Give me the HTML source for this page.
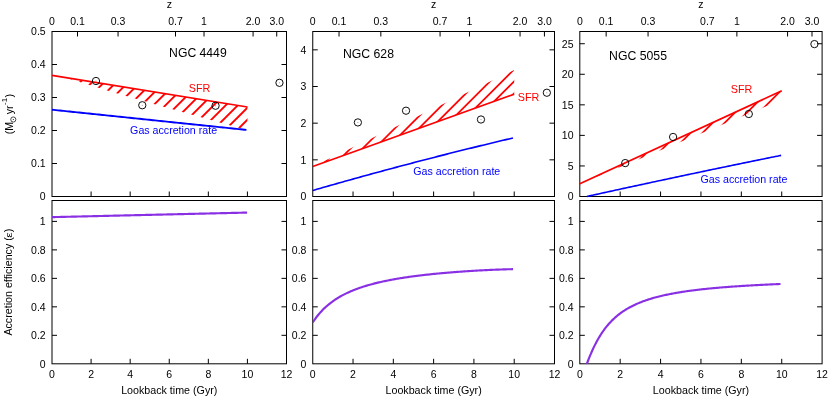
<!DOCTYPE html>
<html><head><meta charset="utf-8"><title>Accretion</title>
<style>html,body{margin:0;padding:0;background:#fff}body{width:830px;height:398px;overflow:hidden}svg{display:block;will-change:transform}text{font-family:"Liberation Sans",sans-serif}</style>
</head><body>
<svg width="830" height="398" viewBox="0 0 830 398" font-family="'Liberation Sans', sans-serif" font-size="10.5">
<rect width="830" height="398" fill="#fff"/>
<rect x="52.00" y="31.50" width="234.50" height="165.00" fill="none" stroke="#000" stroke-width="1.0"/>
<rect x="52.00" y="200.50" width="234.50" height="163.30" fill="none" stroke="#000" stroke-width="1.0"/>
<text x="52.00" y="24.60" text-anchor="middle" fill="#000" font-size="10.5" >0</text>
<line x1="77.50" y1="31.50" x2="77.50" y2="36.50" stroke="#000" stroke-width="1.0" />
<text x="77.50" y="24.60" text-anchor="middle" fill="#000" font-size="10.5" >0.1</text>
<line x1="118.05" y1="31.50" x2="118.05" y2="36.50" stroke="#000" stroke-width="1.0" />
<text x="118.05" y="24.60" text-anchor="middle" fill="#000" font-size="10.5" >0.3</text>
<line x1="175.50" y1="31.50" x2="175.50" y2="36.50" stroke="#000" stroke-width="1.0" />
<text x="175.50" y="24.60" text-anchor="middle" fill="#000" font-size="10.5" >0.7</text>
<line x1="204.03" y1="31.50" x2="204.03" y2="36.50" stroke="#000" stroke-width="1.0" />
<text x="204.03" y="24.60" text-anchor="middle" fill="#000" font-size="10.5" >1</text>
<line x1="253.08" y1="31.50" x2="253.08" y2="36.50" stroke="#000" stroke-width="1.0" />
<text x="253.08" y="24.60" text-anchor="middle" fill="#000" font-size="10.5" >2.0</text>
<line x1="276.73" y1="31.50" x2="276.73" y2="36.50" stroke="#000" stroke-width="1.0" />
<text x="276.73" y="24.60" text-anchor="middle" fill="#000" font-size="10.5" >3.0</text>
<text x="169.25" y="7.80" text-anchor="middle" fill="#000" font-size="10.5" >z</text>
<line x1="91.08" y1="196.50" x2="91.08" y2="191.50" stroke="#000" stroke-width="1.0" />
<line x1="91.08" y1="363.80" x2="91.08" y2="358.80" stroke="#000" stroke-width="1.0" />
<line x1="130.17" y1="196.50" x2="130.17" y2="191.50" stroke="#000" stroke-width="1.0" />
<line x1="130.17" y1="363.80" x2="130.17" y2="358.80" stroke="#000" stroke-width="1.0" />
<line x1="169.25" y1="196.50" x2="169.25" y2="191.50" stroke="#000" stroke-width="1.0" />
<line x1="169.25" y1="363.80" x2="169.25" y2="358.80" stroke="#000" stroke-width="1.0" />
<line x1="208.33" y1="196.50" x2="208.33" y2="191.50" stroke="#000" stroke-width="1.0" />
<line x1="208.33" y1="363.80" x2="208.33" y2="358.80" stroke="#000" stroke-width="1.0" />
<line x1="247.42" y1="196.50" x2="247.42" y2="191.50" stroke="#000" stroke-width="1.0" />
<line x1="247.42" y1="363.80" x2="247.42" y2="358.80" stroke="#000" stroke-width="1.0" />
<text x="52.00" y="378.00" text-anchor="middle" fill="#000" font-size="10.5" >0</text>
<text x="91.08" y="378.00" text-anchor="middle" fill="#000" font-size="10.5" >2</text>
<text x="130.17" y="378.00" text-anchor="middle" fill="#000" font-size="10.5" >4</text>
<text x="169.25" y="378.00" text-anchor="middle" fill="#000" font-size="10.5" >6</text>
<text x="208.33" y="378.00" text-anchor="middle" fill="#000" font-size="10.5" >8</text>
<text x="247.42" y="378.00" text-anchor="middle" fill="#000" font-size="10.5" >10</text>
<text x="286.50" y="378.00" text-anchor="middle" fill="#000" font-size="10.5" >12</text>
<text x="169.25" y="393.60" text-anchor="middle" fill="#000" font-size="10.7" >Lookback time (Gyr)</text>
<text x="45.70" y="200.40" text-anchor="end" fill="#000" font-size="10.5" >0</text>
<line x1="52.00" y1="163.50" x2="57.00" y2="163.50" stroke="#000" stroke-width="1.0" />
<line x1="286.50" y1="163.50" x2="281.50" y2="163.50" stroke="#000" stroke-width="1.0" />
<text x="45.70" y="167.40" text-anchor="end" fill="#000" font-size="10.5" >0.1</text>
<line x1="52.00" y1="130.50" x2="57.00" y2="130.50" stroke="#000" stroke-width="1.0" />
<line x1="286.50" y1="130.50" x2="281.50" y2="130.50" stroke="#000" stroke-width="1.0" />
<text x="45.70" y="134.40" text-anchor="end" fill="#000" font-size="10.5" >0.2</text>
<line x1="52.00" y1="97.50" x2="57.00" y2="97.50" stroke="#000" stroke-width="1.0" />
<line x1="286.50" y1="97.50" x2="281.50" y2="97.50" stroke="#000" stroke-width="1.0" />
<text x="45.70" y="101.40" text-anchor="end" fill="#000" font-size="10.5" >0.3</text>
<line x1="52.00" y1="64.50" x2="57.00" y2="64.50" stroke="#000" stroke-width="1.0" />
<line x1="286.50" y1="64.50" x2="281.50" y2="64.50" stroke="#000" stroke-width="1.0" />
<text x="45.70" y="68.40" text-anchor="end" fill="#000" font-size="10.5" >0.4</text>
<text x="45.70" y="35.40" text-anchor="end" fill="#000" font-size="10.5" >0.5</text>
<text x="45.70" y="367.70" text-anchor="end" fill="#000" font-size="10.5" >0</text>
<line x1="52.00" y1="335.32" x2="57.00" y2="335.32" stroke="#000" stroke-width="1.0" />
<line x1="286.50" y1="335.32" x2="281.50" y2="335.32" stroke="#000" stroke-width="1.0" />
<text x="45.70" y="339.22" text-anchor="end" fill="#000" font-size="10.5" >0.2</text>
<line x1="52.00" y1="306.84" x2="57.00" y2="306.84" stroke="#000" stroke-width="1.0" />
<line x1="286.50" y1="306.84" x2="281.50" y2="306.84" stroke="#000" stroke-width="1.0" />
<text x="45.70" y="310.74" text-anchor="end" fill="#000" font-size="10.5" >0.4</text>
<line x1="52.00" y1="278.36" x2="57.00" y2="278.36" stroke="#000" stroke-width="1.0" />
<line x1="286.50" y1="278.36" x2="281.50" y2="278.36" stroke="#000" stroke-width="1.0" />
<text x="45.70" y="282.26" text-anchor="end" fill="#000" font-size="10.5" >0.6</text>
<line x1="52.00" y1="249.88" x2="57.00" y2="249.88" stroke="#000" stroke-width="1.0" />
<line x1="286.50" y1="249.88" x2="281.50" y2="249.88" stroke="#000" stroke-width="1.0" />
<text x="45.70" y="253.78" text-anchor="end" fill="#000" font-size="10.5" >0.8</text>
<line x1="52.00" y1="221.40" x2="57.00" y2="221.40" stroke="#000" stroke-width="1.0" />
<line x1="286.50" y1="221.40" x2="281.50" y2="221.40" stroke="#000" stroke-width="1.0" />
<text x="45.70" y="225.30" text-anchor="end" fill="#000" font-size="10.5" >1</text>
<rect x="312.75" y="31.50" width="241.75" height="165.00" fill="none" stroke="#000" stroke-width="1.0"/>
<rect x="312.75" y="200.50" width="241.75" height="163.30" fill="none" stroke="#000" stroke-width="1.0"/>
<text x="312.75" y="24.60" text-anchor="middle" fill="#000" font-size="10.5" >0</text>
<line x1="339.04" y1="31.50" x2="339.04" y2="36.50" stroke="#000" stroke-width="1.0" />
<text x="339.04" y="24.60" text-anchor="middle" fill="#000" font-size="10.5" >0.1</text>
<line x1="380.84" y1="31.50" x2="380.84" y2="36.50" stroke="#000" stroke-width="1.0" />
<text x="380.84" y="24.60" text-anchor="middle" fill="#000" font-size="10.5" >0.3</text>
<line x1="440.07" y1="31.50" x2="440.07" y2="36.50" stroke="#000" stroke-width="1.0" />
<text x="440.07" y="24.60" text-anchor="middle" fill="#000" font-size="10.5" >0.7</text>
<line x1="469.48" y1="31.50" x2="469.48" y2="36.50" stroke="#000" stroke-width="1.0" />
<text x="469.48" y="24.60" text-anchor="middle" fill="#000" font-size="10.5" >1</text>
<line x1="520.05" y1="31.50" x2="520.05" y2="36.50" stroke="#000" stroke-width="1.0" />
<text x="520.05" y="24.60" text-anchor="middle" fill="#000" font-size="10.5" >2.0</text>
<line x1="544.43" y1="31.50" x2="544.43" y2="36.50" stroke="#000" stroke-width="1.0" />
<text x="544.43" y="24.60" text-anchor="middle" fill="#000" font-size="10.5" >3.0</text>
<text x="433.62" y="7.80" text-anchor="middle" fill="#000" font-size="10.5" >z</text>
<line x1="353.04" y1="196.50" x2="353.04" y2="191.50" stroke="#000" stroke-width="1.0" />
<line x1="353.04" y1="363.80" x2="353.04" y2="358.80" stroke="#000" stroke-width="1.0" />
<line x1="393.33" y1="196.50" x2="393.33" y2="191.50" stroke="#000" stroke-width="1.0" />
<line x1="393.33" y1="363.80" x2="393.33" y2="358.80" stroke="#000" stroke-width="1.0" />
<line x1="433.62" y1="196.50" x2="433.62" y2="191.50" stroke="#000" stroke-width="1.0" />
<line x1="433.62" y1="363.80" x2="433.62" y2="358.80" stroke="#000" stroke-width="1.0" />
<line x1="473.92" y1="196.50" x2="473.92" y2="191.50" stroke="#000" stroke-width="1.0" />
<line x1="473.92" y1="363.80" x2="473.92" y2="358.80" stroke="#000" stroke-width="1.0" />
<line x1="514.21" y1="196.50" x2="514.21" y2="191.50" stroke="#000" stroke-width="1.0" />
<line x1="514.21" y1="363.80" x2="514.21" y2="358.80" stroke="#000" stroke-width="1.0" />
<text x="312.75" y="378.00" text-anchor="middle" fill="#000" font-size="10.5" >0</text>
<text x="353.04" y="378.00" text-anchor="middle" fill="#000" font-size="10.5" >2</text>
<text x="393.33" y="378.00" text-anchor="middle" fill="#000" font-size="10.5" >4</text>
<text x="433.62" y="378.00" text-anchor="middle" fill="#000" font-size="10.5" >6</text>
<text x="473.92" y="378.00" text-anchor="middle" fill="#000" font-size="10.5" >8</text>
<text x="514.21" y="378.00" text-anchor="middle" fill="#000" font-size="10.5" >10</text>
<text x="554.50" y="378.00" text-anchor="middle" fill="#000" font-size="10.5" >12</text>
<text x="433.62" y="393.60" text-anchor="middle" fill="#000" font-size="10.7" >Lookback time (Gyr)</text>
<text x="306.45" y="200.40" text-anchor="end" fill="#000" font-size="10.5" >0</text>
<line x1="312.75" y1="159.83" x2="317.75" y2="159.83" stroke="#000" stroke-width="1.0" />
<line x1="554.50" y1="159.83" x2="549.50" y2="159.83" stroke="#000" stroke-width="1.0" />
<text x="306.45" y="163.73" text-anchor="end" fill="#000" font-size="10.5" >1</text>
<line x1="312.75" y1="123.17" x2="317.75" y2="123.17" stroke="#000" stroke-width="1.0" />
<line x1="554.50" y1="123.17" x2="549.50" y2="123.17" stroke="#000" stroke-width="1.0" />
<text x="306.45" y="127.07" text-anchor="end" fill="#000" font-size="10.5" >2</text>
<line x1="312.75" y1="86.50" x2="317.75" y2="86.50" stroke="#000" stroke-width="1.0" />
<line x1="554.50" y1="86.50" x2="549.50" y2="86.50" stroke="#000" stroke-width="1.0" />
<text x="306.45" y="90.40" text-anchor="end" fill="#000" font-size="10.5" >3</text>
<line x1="312.75" y1="49.83" x2="317.75" y2="49.83" stroke="#000" stroke-width="1.0" />
<line x1="554.50" y1="49.83" x2="549.50" y2="49.83" stroke="#000" stroke-width="1.0" />
<text x="306.45" y="53.73" text-anchor="end" fill="#000" font-size="10.5" >4</text>
<text x="306.45" y="367.70" text-anchor="end" fill="#000" font-size="10.5" >0</text>
<line x1="312.75" y1="335.32" x2="317.75" y2="335.32" stroke="#000" stroke-width="1.0" />
<line x1="554.50" y1="335.32" x2="549.50" y2="335.32" stroke="#000" stroke-width="1.0" />
<text x="306.45" y="339.22" text-anchor="end" fill="#000" font-size="10.5" >0.2</text>
<line x1="312.75" y1="306.84" x2="317.75" y2="306.84" stroke="#000" stroke-width="1.0" />
<line x1="554.50" y1="306.84" x2="549.50" y2="306.84" stroke="#000" stroke-width="1.0" />
<text x="306.45" y="310.74" text-anchor="end" fill="#000" font-size="10.5" >0.4</text>
<line x1="312.75" y1="278.36" x2="317.75" y2="278.36" stroke="#000" stroke-width="1.0" />
<line x1="554.50" y1="278.36" x2="549.50" y2="278.36" stroke="#000" stroke-width="1.0" />
<text x="306.45" y="282.26" text-anchor="end" fill="#000" font-size="10.5" >0.6</text>
<line x1="312.75" y1="249.88" x2="317.75" y2="249.88" stroke="#000" stroke-width="1.0" />
<line x1="554.50" y1="249.88" x2="549.50" y2="249.88" stroke="#000" stroke-width="1.0" />
<text x="306.45" y="253.78" text-anchor="end" fill="#000" font-size="10.5" >0.8</text>
<line x1="312.75" y1="221.40" x2="317.75" y2="221.40" stroke="#000" stroke-width="1.0" />
<line x1="554.50" y1="221.40" x2="549.50" y2="221.40" stroke="#000" stroke-width="1.0" />
<text x="306.45" y="225.30" text-anchor="end" fill="#000" font-size="10.5" >1</text>
<rect x="579.80" y="31.50" width="242.30" height="165.00" fill="none" stroke="#000" stroke-width="1.0"/>
<rect x="579.80" y="200.50" width="242.30" height="163.30" fill="none" stroke="#000" stroke-width="1.0"/>
<text x="579.80" y="24.60" text-anchor="middle" fill="#000" font-size="10.5" >0</text>
<line x1="606.15" y1="31.50" x2="606.15" y2="36.50" stroke="#000" stroke-width="1.0" />
<text x="606.15" y="24.60" text-anchor="middle" fill="#000" font-size="10.5" >0.1</text>
<line x1="648.05" y1="31.50" x2="648.05" y2="36.50" stroke="#000" stroke-width="1.0" />
<text x="648.05" y="24.60" text-anchor="middle" fill="#000" font-size="10.5" >0.3</text>
<line x1="707.41" y1="31.50" x2="707.41" y2="36.50" stroke="#000" stroke-width="1.0" />
<text x="707.41" y="24.60" text-anchor="middle" fill="#000" font-size="10.5" >0.7</text>
<line x1="736.89" y1="31.50" x2="736.89" y2="36.50" stroke="#000" stroke-width="1.0" />
<text x="736.89" y="24.60" text-anchor="middle" fill="#000" font-size="10.5" >1</text>
<line x1="787.57" y1="31.50" x2="787.57" y2="36.50" stroke="#000" stroke-width="1.0" />
<text x="787.57" y="24.60" text-anchor="middle" fill="#000" font-size="10.5" >2.0</text>
<line x1="812.00" y1="31.50" x2="812.00" y2="36.50" stroke="#000" stroke-width="1.0" />
<text x="812.00" y="24.60" text-anchor="middle" fill="#000" font-size="10.5" >3.0</text>
<text x="700.95" y="7.80" text-anchor="middle" fill="#000" font-size="10.5" >z</text>
<line x1="620.18" y1="196.50" x2="620.18" y2="191.50" stroke="#000" stroke-width="1.0" />
<line x1="620.18" y1="363.80" x2="620.18" y2="358.80" stroke="#000" stroke-width="1.0" />
<line x1="660.57" y1="196.50" x2="660.57" y2="191.50" stroke="#000" stroke-width="1.0" />
<line x1="660.57" y1="363.80" x2="660.57" y2="358.80" stroke="#000" stroke-width="1.0" />
<line x1="700.95" y1="196.50" x2="700.95" y2="191.50" stroke="#000" stroke-width="1.0" />
<line x1="700.95" y1="363.80" x2="700.95" y2="358.80" stroke="#000" stroke-width="1.0" />
<line x1="741.33" y1="196.50" x2="741.33" y2="191.50" stroke="#000" stroke-width="1.0" />
<line x1="741.33" y1="363.80" x2="741.33" y2="358.80" stroke="#000" stroke-width="1.0" />
<line x1="781.72" y1="196.50" x2="781.72" y2="191.50" stroke="#000" stroke-width="1.0" />
<line x1="781.72" y1="363.80" x2="781.72" y2="358.80" stroke="#000" stroke-width="1.0" />
<text x="579.80" y="378.00" text-anchor="middle" fill="#000" font-size="10.5" >0</text>
<text x="620.18" y="378.00" text-anchor="middle" fill="#000" font-size="10.5" >2</text>
<text x="660.57" y="378.00" text-anchor="middle" fill="#000" font-size="10.5" >4</text>
<text x="700.95" y="378.00" text-anchor="middle" fill="#000" font-size="10.5" >6</text>
<text x="741.33" y="378.00" text-anchor="middle" fill="#000" font-size="10.5" >8</text>
<text x="781.72" y="378.00" text-anchor="middle" fill="#000" font-size="10.5" >10</text>
<text x="822.10" y="378.00" text-anchor="middle" fill="#000" font-size="10.5" >12</text>
<text x="700.95" y="393.60" text-anchor="middle" fill="#000" font-size="10.7" >Lookback time (Gyr)</text>
<text x="573.50" y="200.40" text-anchor="end" fill="#000" font-size="10.5" >0</text>
<line x1="579.80" y1="165.94" x2="584.80" y2="165.94" stroke="#000" stroke-width="1.0" />
<line x1="822.10" y1="165.94" x2="817.10" y2="165.94" stroke="#000" stroke-width="1.0" />
<text x="573.50" y="169.84" text-anchor="end" fill="#000" font-size="10.5" >5</text>
<line x1="579.80" y1="135.39" x2="584.80" y2="135.39" stroke="#000" stroke-width="1.0" />
<line x1="822.10" y1="135.39" x2="817.10" y2="135.39" stroke="#000" stroke-width="1.0" />
<text x="573.50" y="139.29" text-anchor="end" fill="#000" font-size="10.5" >10</text>
<line x1="579.80" y1="104.83" x2="584.80" y2="104.83" stroke="#000" stroke-width="1.0" />
<line x1="822.10" y1="104.83" x2="817.10" y2="104.83" stroke="#000" stroke-width="1.0" />
<text x="573.50" y="108.73" text-anchor="end" fill="#000" font-size="10.5" >15</text>
<line x1="579.80" y1="74.28" x2="584.80" y2="74.28" stroke="#000" stroke-width="1.0" />
<line x1="822.10" y1="74.28" x2="817.10" y2="74.28" stroke="#000" stroke-width="1.0" />
<text x="573.50" y="78.18" text-anchor="end" fill="#000" font-size="10.5" >20</text>
<line x1="579.80" y1="43.72" x2="584.80" y2="43.72" stroke="#000" stroke-width="1.0" />
<line x1="822.10" y1="43.72" x2="817.10" y2="43.72" stroke="#000" stroke-width="1.0" />
<text x="573.50" y="47.62" text-anchor="end" fill="#000" font-size="10.5" >25</text>
<text x="573.50" y="367.70" text-anchor="end" fill="#000" font-size="10.5" >0</text>
<line x1="579.80" y1="335.32" x2="584.80" y2="335.32" stroke="#000" stroke-width="1.0" />
<line x1="822.10" y1="335.32" x2="817.10" y2="335.32" stroke="#000" stroke-width="1.0" />
<text x="573.50" y="339.22" text-anchor="end" fill="#000" font-size="10.5" >0.2</text>
<line x1="579.80" y1="306.84" x2="584.80" y2="306.84" stroke="#000" stroke-width="1.0" />
<line x1="822.10" y1="306.84" x2="817.10" y2="306.84" stroke="#000" stroke-width="1.0" />
<text x="573.50" y="310.74" text-anchor="end" fill="#000" font-size="10.5" >0.4</text>
<line x1="579.80" y1="278.36" x2="584.80" y2="278.36" stroke="#000" stroke-width="1.0" />
<line x1="822.10" y1="278.36" x2="817.10" y2="278.36" stroke="#000" stroke-width="1.0" />
<text x="573.50" y="282.26" text-anchor="end" fill="#000" font-size="10.5" >0.6</text>
<line x1="579.80" y1="249.88" x2="584.80" y2="249.88" stroke="#000" stroke-width="1.0" />
<line x1="822.10" y1="249.88" x2="817.10" y2="249.88" stroke="#000" stroke-width="1.0" />
<text x="573.50" y="253.78" text-anchor="end" fill="#000" font-size="10.5" >0.8</text>
<line x1="579.80" y1="221.40" x2="584.80" y2="221.40" stroke="#000" stroke-width="1.0" />
<line x1="822.10" y1="221.40" x2="817.10" y2="221.40" stroke="#000" stroke-width="1.0" />
<text x="573.50" y="225.30" text-anchor="end" fill="#000" font-size="10.5" >1</text>
<clipPath id="h0"><polygon points="52.00,75.39 247.42,107.07 247.42,130.33 247.42,130.33 242.53,128.96 237.65,127.58 232.76,126.21 227.88,124.83 222.99,123.46 218.10,122.08 213.22,120.70 208.33,119.33 203.45,117.95 198.56,116.57 193.68,115.20 188.79,113.82 183.91,112.44 179.02,111.06 174.14,109.68 169.25,108.29 164.36,106.91 159.48,105.52 154.59,104.14 149.71,102.75 144.82,101.35 139.94,99.96 135.05,98.56 130.17,97.15 125.28,95.74 120.40,94.32 115.51,92.90 110.62,91.47 105.74,90.03 100.85,88.57 95.97,87.11 91.08,85.62 86.20,84.12 81.31,82.60 76.43,81.05 71.54,79.47 66.66,77.86 61.77,76.97 56.89,76.18 52.00,75.39"/></clipPath>
<g clip-path="url(#h0)" stroke="#f00" stroke-width="1.9">
<line x1="47.00" y1="67.10" x2="252.42" y2="-138.32"/>
<line x1="47.00" y1="79.15" x2="252.42" y2="-126.27"/>
<line x1="47.00" y1="91.20" x2="252.42" y2="-114.22"/>
<line x1="47.00" y1="103.25" x2="252.42" y2="-102.17"/>
<line x1="47.00" y1="115.30" x2="252.42" y2="-90.12"/>
<line x1="47.00" y1="127.35" x2="252.42" y2="-78.07"/>
<line x1="47.00" y1="139.40" x2="252.42" y2="-66.02"/>
<line x1="47.00" y1="151.45" x2="252.42" y2="-53.97"/>
<line x1="47.00" y1="163.50" x2="252.42" y2="-41.92"/>
<line x1="47.00" y1="175.55" x2="252.42" y2="-29.87"/>
<line x1="47.00" y1="187.60" x2="252.42" y2="-17.82"/>
<line x1="47.00" y1="199.65" x2="252.42" y2="-5.77"/>
<line x1="47.00" y1="211.70" x2="252.42" y2="6.28"/>
<line x1="47.00" y1="223.75" x2="252.42" y2="18.33"/>
<line x1="47.00" y1="235.80" x2="252.42" y2="30.38"/>
<line x1="47.00" y1="247.85" x2="252.42" y2="42.43"/>
<line x1="47.00" y1="259.90" x2="252.42" y2="54.48"/>
<line x1="47.00" y1="271.95" x2="252.42" y2="66.53"/>
<line x1="47.00" y1="284.00" x2="252.42" y2="78.58"/>
<line x1="47.00" y1="296.05" x2="252.42" y2="90.63"/>
<line x1="47.00" y1="308.10" x2="252.42" y2="102.68"/>
<line x1="47.00" y1="320.15" x2="252.42" y2="114.73"/>
<line x1="47.00" y1="332.20" x2="252.42" y2="126.78"/>
<line x1="47.00" y1="344.25" x2="252.42" y2="138.83"/>
</g>
<line x1="52.00" y1="75.39" x2="247.42" y2="107.07" stroke="#f00" stroke-width="1.6" />
<polyline fill="none" stroke="#00f" stroke-width="1.9" points="52.00,109.71 53.94,109.91 55.89,110.11 57.83,110.32 59.78,110.52 61.72,110.72 63.67,110.92 65.61,111.12 67.56,111.33 69.50,111.53 71.44,111.73 73.39,111.93 75.33,112.13 77.28,112.34 79.22,112.54 81.17,112.74 83.11,112.94 85.05,113.14 87.00,113.35 88.94,113.55 90.89,113.75 92.83,113.95 94.78,114.15 96.72,114.36 98.67,114.56 100.61,114.76 102.55,114.96 104.50,115.16 106.44,115.36 108.39,115.57 110.33,115.77 112.28,115.97 114.22,116.17 116.17,116.37 118.11,116.58 120.05,116.78 122.00,116.98 123.94,117.18 125.89,117.38 127.83,117.59 129.78,117.79 131.72,117.99 133.66,118.19 135.61,118.39 137.55,118.60 139.50,118.80 141.44,119.00 143.39,119.20 145.33,119.40 147.28,119.61 149.22,119.81 151.16,120.01 153.11,120.21 155.05,120.41 157.00,120.62 158.94,120.82 160.89,121.02 162.83,121.22 164.77,121.42 166.72,121.63 168.66,121.83 170.61,122.03 172.55,122.23 174.50,122.43 176.44,122.64 178.39,122.84 180.33,123.04 182.27,123.24 184.22,123.44 186.16,123.65 188.11,123.85 190.05,124.05 192.00,124.25 193.94,124.45 195.89,124.66 197.83,124.86 199.77,125.06 201.72,125.26 203.66,125.46 205.61,125.66 207.55,125.87 209.50,126.07 211.44,126.27 213.38,126.47 215.33,126.67 217.27,126.88 219.22,127.08 221.16,127.28 223.11,127.48 225.05,127.68 227.00,127.89 228.94,128.09 230.88,128.29 232.83,128.49 234.77,128.69 236.72,128.90 238.66,129.10 240.61,129.30 242.55,129.50 244.50,129.70 246.44,129.91"/>
<circle cx="95.97" cy="81.00" r="3.65" fill="none" stroke="#000" stroke-width="0.95"/><circle cx="95.97" cy="81.00" r="0.5" fill="#888"/>
<circle cx="142.28" cy="105.25" r="3.65" fill="none" stroke="#000" stroke-width="0.95"/><circle cx="142.28" cy="105.25" r="0.5" fill="#888"/>
<circle cx="215.56" cy="105.75" r="3.65" fill="none" stroke="#000" stroke-width="0.95"/><circle cx="215.56" cy="105.75" r="0.5" fill="#888"/>
<circle cx="279.47" cy="82.82" r="3.65" fill="none" stroke="#000" stroke-width="0.95"/><circle cx="279.47" cy="82.82" r="0.5" fill="#888"/>
<clipPath id="b0"><rect x="52.00" y="200.50" width="234.50" height="163.70"/></clipPath>
<polyline clip-path="url(#b0)" fill="none" stroke="#8a30e4" stroke-width="2.15" points="52.00,217.13 52.98,217.11 53.95,217.08 54.93,217.06 55.90,217.04 56.88,217.01 57.85,216.99 58.83,216.97 59.80,216.95 60.78,216.92 61.76,216.90 62.73,216.88 63.71,216.86 64.68,216.83 65.66,216.81 66.63,216.79 67.61,216.76 68.59,216.74 69.56,216.72 70.54,216.70 71.51,216.67 72.49,216.65 73.46,216.63 74.44,216.60 75.41,216.58 76.39,216.56 77.37,216.54 78.34,216.51 79.32,216.49 80.29,216.47 81.27,216.45 82.24,216.42 83.22,216.40 84.20,216.38 85.17,216.35 86.15,216.33 87.12,216.31 88.10,216.29 89.07,216.26 90.05,216.24 91.02,216.22 92.00,216.20 92.98,216.17 93.95,216.15 94.93,216.13 95.90,216.10 96.88,216.08 97.85,216.06 98.83,216.04 99.81,216.01 100.78,215.99 101.76,215.97 102.73,215.95 103.71,215.92 104.68,215.90 105.66,215.88 106.63,215.85 107.61,215.83 108.59,215.81 109.56,215.79 110.54,215.76 111.51,215.74 112.49,215.72 113.46,215.69 114.44,215.67 115.42,215.65 116.39,215.63 117.37,215.60 118.34,215.58 119.32,215.56 120.29,215.54 121.27,215.51 122.24,215.49 123.22,215.47 124.20,215.44 125.17,215.42 126.15,215.40 127.12,215.38 128.10,215.35 129.07,215.33 130.05,215.31 131.03,215.29 132.00,215.26 132.98,215.24 133.95,215.22 134.93,215.19 135.90,215.17 136.88,215.15 137.85,215.13 138.83,215.10 139.81,215.08 140.78,215.06 141.76,215.04 142.73,215.01 143.71,214.99 144.68,214.97 145.66,214.94 146.63,214.92 147.61,214.90 148.59,214.88 149.56,214.85 150.54,214.83 151.51,214.81 152.49,214.78 153.46,214.76 154.44,214.74 155.42,214.72 156.39,214.69 157.37,214.67 158.34,214.65 159.32,214.63 160.29,214.60 161.27,214.58 162.24,214.56 163.22,214.53 164.20,214.51 165.17,214.49 166.15,214.47 167.12,214.44 168.10,214.42 169.07,214.40 170.05,214.38 171.03,214.35 172.00,214.33 172.98,214.31 173.95,214.28 174.93,214.26 175.90,214.24 176.88,214.22 177.85,214.19 178.83,214.17 179.81,214.15 180.78,214.13 181.76,214.10 182.73,214.08 183.71,214.06 184.68,214.03 185.66,214.01 186.64,213.99 187.61,213.97 188.59,213.94 189.56,213.92 190.54,213.90 191.51,213.87 192.49,213.85 193.46,213.83 194.44,213.81 195.42,213.78 196.39,213.76 197.37,213.74 198.34,213.72 199.32,213.69 200.29,213.67 201.27,213.65 202.25,213.62 203.22,213.60 204.20,213.58 205.17,213.56 206.15,213.53 207.12,213.51 208.10,213.49 209.07,213.47 210.05,213.44 211.03,213.42 212.00,213.40 212.98,213.37 213.95,213.35 214.93,213.33 215.90,213.31 216.88,213.28 217.86,213.26 218.83,213.24 219.81,213.22 220.78,213.19 221.76,213.17 222.73,213.15 223.71,213.12 224.68,213.10 225.66,213.08 226.64,213.06 227.61,213.03 228.59,213.01 229.56,212.99 230.54,212.96 231.51,212.94 232.49,212.92 233.46,212.90 234.44,212.87 235.42,212.85 236.39,212.83 237.37,212.81 238.34,212.78 239.32,212.76 240.29,212.74 241.27,212.71 242.25,212.69 243.22,212.67 244.20,212.65 245.17,212.62 246.15,212.60 247.12,212.58"/>
<clipPath id="h1"><polygon points="312.75,166.43 514.21,94.20 514.21,70.00"/></clipPath>
<g clip-path="url(#h1)" stroke="#f00" stroke-width="1.75">
<line x1="307.75" y1="155.15" x2="519.21" y2="-56.31"/>
<line x1="307.75" y1="167.20" x2="519.21" y2="-44.26"/>
<line x1="307.75" y1="179.25" x2="519.21" y2="-32.21"/>
<line x1="307.75" y1="191.30" x2="519.21" y2="-20.16"/>
<line x1="307.75" y1="203.35" x2="519.21" y2="-8.11"/>
<line x1="307.75" y1="215.40" x2="519.21" y2="3.94"/>
<line x1="307.75" y1="227.45" x2="519.21" y2="15.99"/>
<line x1="307.75" y1="239.50" x2="519.21" y2="28.04"/>
<line x1="307.75" y1="251.55" x2="519.21" y2="40.09"/>
<line x1="307.75" y1="263.60" x2="519.21" y2="52.14"/>
<line x1="307.75" y1="275.65" x2="519.21" y2="64.19"/>
<line x1="307.75" y1="287.70" x2="519.21" y2="76.24"/>
<line x1="307.75" y1="299.75" x2="519.21" y2="88.29"/>
<line x1="307.75" y1="311.80" x2="519.21" y2="100.34"/>
<line x1="307.75" y1="323.85" x2="519.21" y2="112.39"/>
</g>
<line x1="312.75" y1="166.43" x2="514.21" y2="94.20" stroke="#f00" stroke-width="1.6" />
<polyline fill="none" stroke="#00f" stroke-width="1.6" points="312.75,190.49 314.75,189.91 316.75,189.33 318.76,188.75 320.76,188.18 322.76,187.60 324.76,187.03 326.77,186.46 328.77,185.89 330.77,185.32 332.77,184.75 334.78,184.18 336.78,183.61 338.78,183.04 340.78,182.48 342.79,181.92 344.79,181.35 346.79,180.79 348.79,180.23 350.80,179.67 352.80,179.11 354.80,178.56 356.80,178.00 358.81,177.45 360.81,176.89 362.81,176.34 364.81,175.79 366.82,175.24 368.82,174.69 370.82,174.14 372.82,173.59 374.83,173.04 376.83,172.50 378.83,171.95 380.83,171.41 382.84,170.87 384.84,170.33 386.84,169.79 388.84,169.25 390.85,168.71 392.85,168.18 394.85,167.64 396.85,167.11 398.86,166.57 400.86,166.04 402.86,165.51 404.86,164.98 406.87,164.45 408.87,163.92 410.87,163.40 412.87,162.87 414.88,162.35 416.88,161.82 418.88,161.30 420.88,160.78 422.89,160.26 424.89,159.74 426.89,159.22 428.89,158.70 430.90,158.19 432.90,157.67 434.90,157.16 436.90,156.65 438.91,156.13 440.91,155.62 442.91,155.11 444.91,154.61 446.92,154.10 448.92,153.59 450.92,153.09 452.92,152.58 454.93,152.08 456.93,151.58 458.93,151.08 460.93,150.58 462.94,150.08 464.94,149.58 466.94,149.09 468.94,148.59 470.95,148.10 472.95,147.60 474.95,147.11 476.95,146.62 478.96,146.13 480.96,145.64 482.96,145.16 484.96,144.67 486.97,144.18 488.97,143.70 490.97,143.22 492.97,142.73 494.98,142.25 496.98,141.77 498.98,141.29 500.98,140.82 502.99,140.34 504.99,139.86 506.99,139.39 508.99,138.91 511.00,138.44 513.00,137.97"/>
<circle cx="357.88" cy="122.43" r="3.65" fill="none" stroke="#000" stroke-width="0.95"/><circle cx="357.88" cy="122.43" r="0.5" fill="#888"/>
<circle cx="406.03" cy="110.70" r="3.65" fill="none" stroke="#000" stroke-width="0.95"/><circle cx="406.03" cy="110.70" r="0.5" fill="#888"/>
<circle cx="480.97" cy="119.50" r="3.65" fill="none" stroke="#000" stroke-width="0.95"/><circle cx="480.97" cy="119.50" r="0.5" fill="#888"/>
<circle cx="546.84" cy="92.73" r="3.65" fill="none" stroke="#000" stroke-width="0.95"/><circle cx="546.84" cy="92.73" r="0.5" fill="#888"/>
<clipPath id="b1"><rect x="312.75" y="200.50" width="241.75" height="163.70"/></clipPath>
<polyline clip-path="url(#b1)" fill="none" stroke="#8a30e4" stroke-width="2.15" points="312.75,322.50 313.75,320.97 314.75,319.51 315.75,318.12 316.75,316.78 317.76,315.51 318.76,314.28 319.76,313.11 320.76,311.98 321.76,310.90 322.76,309.86 323.76,308.86 324.76,307.90 325.77,306.97 326.77,306.07 327.77,305.21 328.77,304.37 329.77,303.57 330.77,302.79 331.77,302.04 332.77,301.31 333.78,300.60 334.78,299.92 335.78,299.26 336.78,298.62 337.78,297.99 338.78,297.39 339.78,296.80 340.78,296.23 341.79,295.68 342.79,295.14 343.79,294.62 344.79,294.11 345.79,293.61 346.79,293.13 347.79,292.66 348.79,292.20 349.80,291.75 350.80,291.32 351.80,290.89 352.80,290.48 353.80,290.08 354.80,289.68 355.80,289.30 356.80,288.92 357.81,288.55 358.81,288.20 359.81,287.85 360.81,287.50 361.81,287.17 362.81,286.84 363.81,286.52 364.81,286.20 365.82,285.90 366.82,285.60 367.82,285.30 368.82,285.01 369.82,284.73 370.82,284.45 371.82,284.18 372.82,283.92 373.83,283.66 374.83,283.40 375.83,283.15 376.83,282.90 377.83,282.66 378.83,282.42 379.83,282.19 380.83,281.96 381.84,281.74 382.84,281.52 383.84,281.30 384.84,281.09 385.84,280.88 386.84,280.68 387.84,280.48 388.84,280.28 389.85,280.08 390.85,279.89 391.85,279.70 392.85,279.52 393.85,279.34 394.85,279.16 395.85,278.98 396.85,278.81 397.86,278.64 398.86,278.47 399.86,278.31 400.86,278.14 401.86,277.98 402.86,277.83 403.86,277.67 404.86,277.52 405.87,277.37 406.87,277.22 407.87,277.08 408.87,276.93 409.87,276.79 410.87,276.65 411.87,276.51 412.87,276.38 413.88,276.24 414.88,276.11 415.88,275.98 416.88,275.86 417.88,275.73 418.88,275.61 419.88,275.48 420.88,275.36 421.89,275.24 422.89,275.13 423.89,275.01 424.89,274.90 425.89,274.78 426.89,274.67 427.89,274.56 428.89,274.45 429.90,274.35 430.90,274.24 431.90,274.14 432.90,274.03 433.90,273.93 434.90,273.83 435.90,273.73 436.90,273.64 437.91,273.54 438.91,273.45 439.91,273.35 440.91,273.26 441.91,273.17 442.91,273.08 443.91,272.99 444.91,272.90 445.92,272.81 446.92,272.73 447.92,272.64 448.92,272.56 449.92,272.48 450.92,272.40 451.92,272.32 452.92,272.24 453.93,272.16 454.93,272.08 455.93,272.01 456.93,271.93 457.93,271.86 458.93,271.78 459.93,271.71 460.93,271.64 461.94,271.57 462.94,271.50 463.94,271.43 464.94,271.36 465.94,271.29 466.94,271.23 467.94,271.16 468.94,271.10 469.95,271.03 470.95,270.97 471.95,270.91 472.95,270.85 473.95,270.79 474.95,270.73 475.95,270.67 476.95,270.61 477.96,270.55 478.96,270.50 479.96,270.44 480.96,270.39 481.96,270.33 482.96,270.28 483.96,270.23 484.96,270.18 485.97,270.13 486.97,270.08 487.97,270.03 488.97,269.98 489.97,269.94 490.97,269.89 491.97,269.85 492.97,269.80 493.98,269.76 494.98,269.72 495.98,269.68 496.98,269.64 497.98,269.60 498.98,269.56 499.98,269.52 500.98,269.49 501.99,269.46 502.99,269.42 503.99,269.39 504.99,269.36 505.99,269.33 506.99,269.30 507.99,269.28 508.99,269.25 510.00,269.23 511.00,269.21 512.00,269.19 513.00,269.17"/>
<clipPath id="h2"><polygon points="579.80,183.67 781.72,90.78 781.72,99.94"/></clipPath>
<g clip-path="url(#h2)" stroke="#f00" stroke-width="1.75">
<line x1="574.80" y1="176.30" x2="786.72" y2="-35.62"/>
<line x1="574.80" y1="188.35" x2="786.72" y2="-23.57"/>
<line x1="574.80" y1="200.40" x2="786.72" y2="-11.52"/>
<line x1="574.80" y1="212.45" x2="786.72" y2="0.53"/>
<line x1="574.80" y1="224.50" x2="786.72" y2="12.58"/>
<line x1="574.80" y1="236.55" x2="786.72" y2="24.63"/>
<line x1="574.80" y1="248.60" x2="786.72" y2="36.68"/>
<line x1="574.80" y1="260.65" x2="786.72" y2="48.73"/>
<line x1="574.80" y1="272.70" x2="786.72" y2="60.78"/>
<line x1="574.80" y1="284.75" x2="786.72" y2="72.83"/>
<line x1="574.80" y1="296.80" x2="786.72" y2="84.88"/>
<line x1="574.80" y1="308.85" x2="786.72" y2="96.93"/>
<line x1="574.80" y1="320.90" x2="786.72" y2="108.98"/>
</g>
<line x1="579.80" y1="183.67" x2="781.72" y2="90.78" stroke="#f00" stroke-width="1.75" />
<polyline fill="none" stroke="#00f" stroke-width="1.6" points="586.87,196.50 588.81,196.07 590.75,195.64 592.69,195.21 594.64,194.78 596.58,194.35 598.52,193.93 600.46,193.50 602.41,193.07 604.35,192.64 606.29,192.22 608.23,191.79 610.18,191.37 612.12,190.94 614.06,190.52 616.00,190.09 617.95,189.67 619.89,189.24 621.83,188.82 623.77,188.40 625.72,187.97 627.66,187.55 629.60,187.13 631.54,186.71 633.49,186.29 635.43,185.86 637.37,185.44 639.31,185.02 641.26,184.60 643.20,184.18 645.14,183.77 647.08,183.35 649.03,182.93 650.97,182.51 652.91,182.09 654.85,181.68 656.79,181.26 658.74,180.84 660.68,180.43 662.62,180.01 664.56,179.60 666.51,179.18 668.45,178.77 670.39,178.35 672.33,177.94 674.28,177.53 676.22,177.11 678.16,176.70 680.10,176.29 682.05,175.88 683.99,175.46 685.93,175.05 687.87,174.64 689.82,174.23 691.76,173.82 693.70,173.41 695.64,173.00 697.59,172.60 699.53,172.19 701.47,171.78 703.41,171.37 705.36,170.96 707.30,170.56 709.24,170.15 711.18,169.74 713.13,169.34 715.07,168.93 717.01,168.53 718.95,168.12 720.90,167.72 722.84,167.31 724.78,166.91 726.72,166.51 728.67,166.10 730.61,165.70 732.55,165.30 734.49,164.90 736.43,164.50 738.38,164.10 740.32,163.70 742.26,163.30 744.20,162.90 746.15,162.50 748.09,162.10 750.03,161.70 751.97,161.30 753.92,160.90 755.86,160.51 757.80,160.11 759.74,159.71 761.69,159.31 763.63,158.92 765.57,158.52 767.51,158.13 769.46,157.73 771.40,157.34 773.34,156.94 775.28,156.55 777.23,156.16 779.17,155.76 781.11,155.37"/>
<circle cx="625.23" cy="163.07" r="3.65" fill="none" stroke="#000" stroke-width="0.95"/><circle cx="625.23" cy="163.07" r="0.5" fill="#888"/>
<circle cx="673.09" cy="136.98" r="3.65" fill="none" stroke="#000" stroke-width="0.95"/><circle cx="673.09" cy="136.98" r="0.5" fill="#888"/>
<circle cx="748.80" cy="114.00" r="3.65" fill="none" stroke="#000" stroke-width="0.95"/><circle cx="748.80" cy="114.00" r="0.5" fill="#888"/>
<circle cx="814.43" cy="44.09" r="3.65" fill="none" stroke="#000" stroke-width="0.95"/><circle cx="814.43" cy="44.09" r="0.5" fill="#888"/>
<clipPath id="b2"><rect x="579.80" y="200.50" width="242.30" height="163.70"/></clipPath>
<polyline clip-path="url(#b2)" fill="none" stroke="#8a30e4" stroke-width="2.15" points="586.82,363.91 587.83,361.25 588.83,358.68 589.84,356.19 590.84,353.80 591.84,351.50 592.85,349.29 593.85,347.16 594.85,345.12 595.86,343.16 596.86,341.28 597.86,339.47 598.87,337.74 599.87,336.08 600.87,334.48 601.88,332.95 602.88,331.49 603.88,330.08 604.89,328.72 605.89,327.42 606.90,326.17 607.90,324.97 608.90,323.82 609.91,322.71 610.91,321.64 611.91,320.62 612.92,319.63 613.92,318.67 614.92,317.76 615.93,316.87 616.93,316.02 617.93,315.20 618.94,314.40 619.94,313.63 620.94,312.89 621.95,312.18 622.95,311.49 623.96,310.82 624.96,310.17 625.96,309.54 626.97,308.94 627.97,308.35 628.97,307.78 629.98,307.23 630.98,306.70 631.98,306.18 632.99,305.67 633.99,305.19 634.99,304.71 636.00,304.25 637.00,303.81 638.00,303.37 639.01,302.95 640.01,302.54 641.02,302.14 642.02,301.75 643.02,301.37 644.03,301.01 645.03,300.65 646.03,300.30 647.04,299.96 648.04,299.63 649.04,299.30 650.05,298.99 651.05,298.68 652.05,298.38 653.06,298.09 654.06,297.81 655.06,297.53 656.07,297.25 657.07,296.99 658.08,296.73 659.08,296.48 660.08,296.23 661.09,295.98 662.09,295.75 663.09,295.52 664.10,295.29 665.10,295.07 666.10,294.85 667.11,294.64 668.11,294.43 669.11,294.22 670.12,294.03 671.12,293.83 672.12,293.64 673.13,293.45 674.13,293.27 675.13,293.09 676.14,292.91 677.14,292.74 678.15,292.57 679.15,292.40 680.15,292.24 681.16,292.07 682.16,291.92 683.16,291.76 684.17,291.61 685.17,291.46 686.17,291.31 687.18,291.17 688.18,291.03 689.18,290.89 690.19,290.75 691.19,290.62 692.19,290.49 693.20,290.36 694.20,290.23 695.21,290.11 696.21,289.98 697.21,289.86 698.22,289.74 699.22,289.63 700.22,289.51 701.23,289.40 702.23,289.29 703.23,289.18 704.24,289.07 705.24,288.96 706.24,288.86 707.25,288.75 708.25,288.65 709.25,288.55 710.26,288.45 711.26,288.36 712.27,288.26 713.27,288.17 714.27,288.08 715.28,287.98 716.28,287.89 717.28,287.81 718.29,287.72 719.29,287.63 720.29,287.55 721.30,287.46 722.30,287.38 723.30,287.30 724.31,287.22 725.31,287.14 726.31,287.06 727.32,286.98 728.32,286.91 729.33,286.83 730.33,286.76 731.33,286.69 732.34,286.61 733.34,286.54 734.34,286.47 735.35,286.40 736.35,286.33 737.35,286.27 738.36,286.20 739.36,286.13 740.36,286.07 741.37,286.00 742.37,285.94 743.37,285.88 744.38,285.82 745.38,285.75 746.39,285.69 747.39,285.63 748.39,285.57 749.40,285.52 750.40,285.46 751.40,285.40 752.41,285.35 753.41,285.29 754.41,285.23 755.42,285.18 756.42,285.13 757.42,285.07 758.43,285.02 759.43,284.97 760.43,284.92 761.44,284.87 762.44,284.82 763.45,284.77 764.45,284.72 765.45,284.67 766.46,284.62 767.46,284.57 768.46,284.53 769.47,284.48 770.47,284.43 771.47,284.39 772.48,284.34 773.48,284.30 774.48,284.25 775.49,284.21 776.49,284.17 777.49,284.12 778.50,284.08 779.50,284.04 780.51,284.00"/>
<text x="169.10" y="56.90" text-anchor="start" fill="#000" font-size="12.2" >NGC 4449</text>
<text x="342.90" y="57.60" text-anchor="start" fill="#000" font-size="12.25" >NGC 628</text>
<text x="609.10" y="59.90" text-anchor="start" fill="#000" font-size="12.25" >NGC 5055</text>
<text x="199.50" y="91.60" text-anchor="middle" fill="#f00" font-size="10.8" >SFR</text>
<text x="173.60" y="134.20" text-anchor="middle" fill="#00f" font-size="10.65" >Gas accretion rate</text>
<text x="528.50" y="101.00" text-anchor="middle" fill="#f00" font-size="10.8" >SFR</text>
<text x="456.80" y="174.50" text-anchor="middle" fill="#00f" font-size="10.65" >Gas accretion rate</text>
<text x="741.50" y="93.40" text-anchor="middle" fill="#f00" font-size="10.8" >SFR</text>
<text x="744.00" y="182.70" text-anchor="middle" fill="#00f" font-size="10.65" >Gas accretion rate</text>
<g transform="translate(12.7,133.6) rotate(-90)" font-size="10.7"><text x="-0.6" y="0">(M</text><circle cx="14.1" cy="0.6" r="2.55" fill="none" stroke="#000" stroke-width="0.7"/><circle cx="14.1" cy="0.6" r="0.55" fill="#000"/><text x="19.3" y="0">yr</text><text x="28.6" y="-5.6" font-size="8">-1</text><text x="36.0" y="0">)</text></g>
<g transform="translate(11.8,237.2) rotate(-90)" font-size="10.7"><text x="0" y="0" text-anchor="end">Accretion efficiency (</text><text transform="translate(2.1,0.4) scale(1.5,1.12)" text-anchor="middle" font-size="8">ε</text><text x="5.0" y="0">)</text></g>
</svg>
</body></html>
